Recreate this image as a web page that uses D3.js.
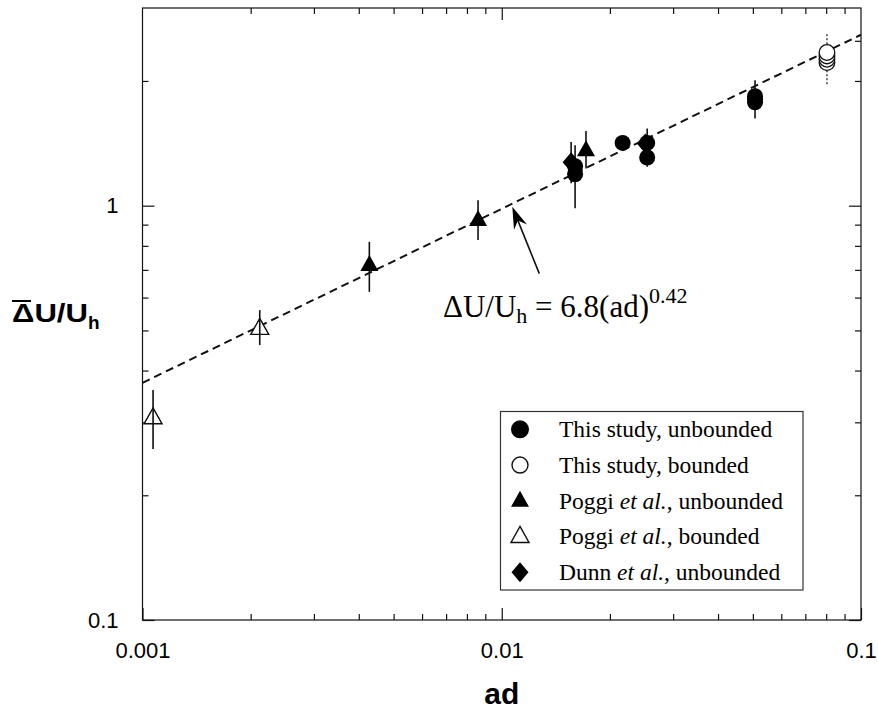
<!DOCTYPE html>
<html>
<head>
<meta charset="utf-8">
<script src="https://cdn.jsdelivr.net/npm/d3@7/dist/d3.min.js"></script>
<style>
  html, body { margin: 0; padding: 0; background: #fff; }
  svg { display: block; }
</style>
</head>
<body>
<svg id="chart" width="878" height="715"></svg>
<script>
// ---- data -------------------------------------------------------------
// This study, unbounded (filled circles)
const tsuAd = [0.0160, 0.0160, 0.0217, 0.0254, 0.0254, 0.0507, 0.0507, 0.0507];
const tsuDu = [1.245, 1.191, 1.417, 1.417, 1.307, 1.837, 1.807, 1.777];
const tsuErrAd = [0.0160, 0.0254, 0.0507];
const tsuErrLo = [0.986, 1.241, 1.623];
const tsuErrHi = [1.400, 1.536, 2.008];

// This study, bounded (open circles)
const tsbAd = [0.0804, 0.0804, 0.0804, 0.0804];
const tsbDu = [2.215, 2.256, 2.298, 2.343];
const tsbErrAd = [0.0804];
const tsbErrLo = [1.943];
const tsbErrHi = [2.593];

// Poggi et al., unbounded (filled triangles)
const puAd = [0.00428, 0.00859, 0.01716];
const puDu = [0.719, 0.923, 1.361];
const puErrLo = [0.6195, 0.826, 1.229];
const puErrHi = [0.818, 1.031, 1.515];

// Poggi et al., bounded (open triangles)
const pbAd = [0.00107, 0.00212];
const pbDu = [0.3076, 0.5056];
const pbErrLo = [0.2585, 0.4607];
const pbErrHi = [0.359, 0.5597];

// Dunn et al., unbounded (filled diamonds)
const duAd = [0.0156, 0.0251];
const duDu = [1.273, 1.412];
const duErrAd = [0.0156];
const duErrLo = [1.133];
const duErrHi = [1.425];

// Power-law fit  dU/Uh = 6.8 (ad)^0.42
const fitCoef = 6.8;
const fitExp = 0.42;
const fitArrowAd = 0.0107;

// Axes
const xMajor = [0.001, 0.01, 0.1];
const xTickLabels = ["0.001", "0.01", "0.1"];
const xMinor = [0.002, 0.003, 0.004, 0.005, 0.006, 0.007, 0.008, 0.009,
                0.02, 0.03, 0.04, 0.05, 0.06, 0.07, 0.08, 0.09];
const yMajor = [0.1, 1];
const yTickLabels = ["0.1", "1"];
const yMinorLeft = [0.2, 0.3, 0.4, 0.5, 0.6, 0.7, 0.8, 0.9, 2];
const yMinorRight = [0.2, 0.3, 0.4, 0.5, 0.6, 0.7, 0.8, 0.9, 2, 2.5];

const legendLabels = [
  [["This study, unbounded", false]],
  [["This study, bounded", false]],
  [["Poggi ", false], ["et al.", true], [", unbounded", false]],
  [["Poggi ", false], ["et al.", true], [", bounded", false]],
  [["Dunn ", false], ["et al.", true], [", unbounded", false]]
];
const legendSymbols = ["circleFilled", "circleOpen", "triFilled", "triOpen", "diamond"];

// ---- layout -----------------------------------------------------------
const L = 142.5, R = 861, T = 8, B = 620;
const svg = d3.select("#chart");
const x = d3.scaleLog().domain([0.001, 0.1]).range([L, R]);
const y = d3.scaleLog().domain([0.1, 3]).range([B, T]);

const ink = "#111";
const sans = "'Liberation Sans', Arial, Helvetica, sans-serif";
const serif = "'Liberation Serif', 'Times New Roman', Times, serif";

// frame
svg.append("rect")
  .attr("x", L).attr("y", T).attr("width", R - L).attr("height", B - T)
  .attr("fill", "none").attr("stroke", ink).attr("stroke-width", 1.2);

function styleAxis(g) {
  g.select(".domain").remove();
  g.selectAll(".tick line").attr("stroke", ink).attr("stroke-width", 1.2);
  g.selectAll(".tick text").attr("fill", "#000");
}

// bottom axis
svg.append("g").attr("transform", `translate(0,${B})`)
  .call(d3.axisBottom(x).tickValues(xMajor)
    .tickFormat((d, i) => xTickLabels[i]).tickSizeInner(-12).tickSizeOuter(0).tickPadding(22))
  .call(styleAxis)
  .call(g => g.selectAll(".tick text").attr("font-family", sans).attr("font-size", 22));
svg.append("g").attr("transform", `translate(0,${B})`)
  .call(d3.axisBottom(x).tickValues(xMinor).tickFormat("").tickSizeInner(-6).tickSizeOuter(0))
  .call(styleAxis);

// top axis
svg.append("g").attr("transform", `translate(0,${T})`)
  .call(d3.axisTop(x).tickValues(xMajor.slice(1, 2)).tickFormat("").tickSizeInner(-12).tickSizeOuter(0))
  .call(styleAxis);
svg.append("g").attr("transform", `translate(0,${T})`)
  .call(d3.axisTop(x).tickValues(xMinor).tickFormat("").tickSizeInner(-6).tickSizeOuter(0))
  .call(styleAxis);

// left axis
svg.append("g").attr("transform", `translate(${L},0)`)
  .call(d3.axisLeft(y).tickValues(yMajor)
    .tickFormat((d, i) => yTickLabels[i]).tickSizeInner(-12).tickSizeOuter(0).tickPadding(24))
  .call(styleAxis)
  .call(g => g.selectAll(".tick text").attr("font-family", sans).attr("font-size", 22));
svg.append("g").attr("transform", `translate(${L},0)`)
  .call(d3.axisLeft(y).tickValues(yMinorLeft).tickFormat("").tickSizeInner(-6).tickSizeOuter(0))
  .call(styleAxis);

// right axis
svg.append("g").attr("transform", `translate(${R},0)`)
  .call(d3.axisRight(y).tickValues(yMajor).tickFormat("").tickSizeInner(-12).tickSizeOuter(0))
  .call(styleAxis);
svg.append("g").attr("transform", `translate(${R},0)`)
  .call(d3.axisRight(y).tickValues(yMinorRight).tickFormat("").tickSizeInner(-6).tickSizeOuter(0))
  .call(styleAxis);

// axis titles
svg.append("text")
  .attr("x", (L + R) / 2).attr("y", 704)
  .attr("text-anchor", "middle")
  .attr("font-family", sans).attr("font-weight", "bold").attr("font-size", 30)
  .text("ad");

const yTitle = svg.append("text")
  .attr("x", 12).attr("y", 322)
  .attr("font-family", sans).attr("font-weight", "bold").attr("font-size", 26);
yTitle.append("tspan").attr("textLength", 76).attr("lengthAdjust", "spacingAndGlyphs").text("\u0394U/U");
yTitle.append("tspan").attr("font-size", 19).attr("dy", 7).text("h");
// mean bar over the delta
svg.append("line")
  .attr("x1", 12).attr("x2", 31).attr("y1", 301).attr("y2", 301)
  .attr("stroke", "#000").attr("stroke-width", 2);

// ---- fit line ---------------------------------------------------------
const fit = ad => fitCoef * Math.pow(ad, fitExp);
const fitDomain = x.domain();
svg.append("line")
  .attr("x1", x(fitDomain[0])).attr("y1", y(fit(fitDomain[0])))
  .attr("x2", x(fitDomain[1])).attr("y2", y(fit(fitDomain[1])))
  .attr("stroke", ink).attr("stroke-width", 2)
  .attr("stroke-dasharray", "8,5");

// ---- error bars -------------------------------------------------------
function errorBars(ad, lo, hi, dashed) {
  svg.append("g").selectAll("line").data(ad).join("line")
    .attr("x1", d => x(d)).attr("x2", d => x(d))
    .attr("y1", (d, i) => y(hi[i])).attr("y2", (d, i) => y(lo[i]))
    .attr("stroke", ink).attr("stroke-width", dashed ? 1.2 : 1.6)
    .attr("stroke-dasharray", dashed ? "2,2" : null);
}
errorBars(tsuErrAd, tsuErrLo, tsuErrHi, false);
errorBars(tsbErrAd, tsbErrLo, tsbErrHi, true);
errorBars(puAd, puErrLo, puErrHi, false);
errorBars(duErrAd, duErrLo, duErrHi, false);

// ---- markers ----------------------------------------------------------
const triPath = "M0,-10L9,6L-9,6Z";
const diamondPath = "M0,-10L8.5,0L0,10L-8.5,0Z";

svg.append("g").selectAll("path").data(duAd).join("path")
  .attr("transform", (d, i) => `translate(${x(d)},${y(duDu[i])})`)
  .attr("d", diamondPath).attr("fill", "#000");

svg.append("g").selectAll("path").data(puAd).join("path")
  .attr("transform", (d, i) => `translate(${x(d)},${y(puDu[i])})`)
  .attr("d", triPath).attr("fill", "#000");

svg.append("g").selectAll("circle").data(tsuAd).join("circle")
  .attr("cx", d => x(d)).attr("cy", (d, i) => y(tsuDu[i]))
  .attr("r", 8).attr("fill", "#000");

svg.append("g").selectAll("circle").data(tsbAd).join("circle")
  .attr("cx", d => x(d)).attr("cy", (d, i) => y(tsbDu[i]))
  .attr("r", 7.8).attr("fill", "#fff").attr("stroke", ink).attr("stroke-width", 1.3);

svg.append("g").selectAll("path").data(pbAd).join("path")
  .attr("transform", (d, i) => `translate(${x(d)},${y(pbDu[i])})`)
  .attr("d", triPath).attr("fill", "#fff").attr("stroke", ink).attr("stroke-width", 1.4);
// bars run through the open triangles
errorBars(pbAd, pbErrLo, pbErrHi, false);

// ---- annotation -------------------------------------------------------
const tipX = x(fitArrowAd), tipY = y(fit(fitArrowAd)) + 3;
const tailX = tipX + 27, tailY = tipY + 67;
const ang = Math.atan2(tipY - tailY, tipX - tailX);
svg.append("line")
  .attr("x1", tailX).attr("y1", tailY)
  .attr("x2", tipX - 14 * Math.cos(ang)).attr("y2", tipY - 14 * Math.sin(ang))
  .attr("stroke", ink).attr("stroke-width", 1.6);
const hl = 22, hw = 7;
const bx = tipX - hl * Math.cos(ang), by = tipY - hl * Math.sin(ang);
svg.append("path")
  .attr("d", `M${tipX},${tipY}L${bx + hw * Math.sin(ang)},${by - hw * Math.cos(ang)}` +
             `L${tipX - 15 * Math.cos(ang)},${tipY - 15 * Math.sin(ang)}` +
             `L${bx - hw * Math.sin(ang)},${by + hw * Math.cos(ang)}Z`)
  .attr("fill", "#000");

const eq = svg.append("text")
  .attr("x", 443).attr("y", 317)
  .attr("font-family", serif).attr("font-size", 31).attr("fill", "#000");
eq.append("tspan").text("\u0394U/U");
eq.append("tspan").attr("font-size", 22).attr("dy", 6).text("h");
eq.append("tspan").attr("dy", -6).text(" = " + fitCoef + "(ad)");
eq.append("tspan").attr("font-size", 22).attr("dy", -14).text(String(fitExp));

// ---- legend -----------------------------------------------------------
const lg = svg.append("g");
const lgX = 500.5, lgY = 411.5, lgW = 302.5, lgH = 178.5;
lg.append("rect").attr("x", lgX).attr("y", lgY).attr("width", lgW).attr("height", lgH)
  .attr("fill", "#fff").attr("stroke", "#333").attr("stroke-width", 1.2);
const rowH = lgH / 5;
legendLabels.forEach((parts, i) => {
  const cy = lgY + rowH * (i + 0.5);
  const sx = 520;
  const kind = legendSymbols[i];
  if (kind === "circleFilled") {
    lg.append("circle").attr("cx", sx).attr("cy", cy).attr("r", 9).attr("fill", "#000");
  } else if (kind === "circleOpen") {
    lg.append("circle").attr("cx", sx).attr("cy", cy).attr("r", 8)
      .attr("fill", "#fff").attr("stroke", ink).attr("stroke-width", 1.4);
  } else if (kind === "triFilled") {
    lg.append("path").attr("transform", `translate(${sx},${cy})`).attr("d", triPath).attr("fill", "#000");
  } else if (kind === "triOpen") {
    lg.append("path").attr("transform", `translate(${sx},${cy})`).attr("d", triPath)
      .attr("fill", "#fff").attr("stroke", ink).attr("stroke-width", 1.4);
  } else {
    lg.append("path").attr("transform", `translate(${sx},${cy})`).attr("d", diamondPath).attr("fill", "#000");
  }
  const t = lg.append("text").attr("x", 559).attr("y", cy + 8)
    .attr("font-family", serif).attr("font-size", 23.5).attr("fill", "#000");
  parts.forEach(([s, it]) => t.append("tspan").attr("font-style", it ? "italic" : "normal").text(s));
});
</script>
</body>
</html>
